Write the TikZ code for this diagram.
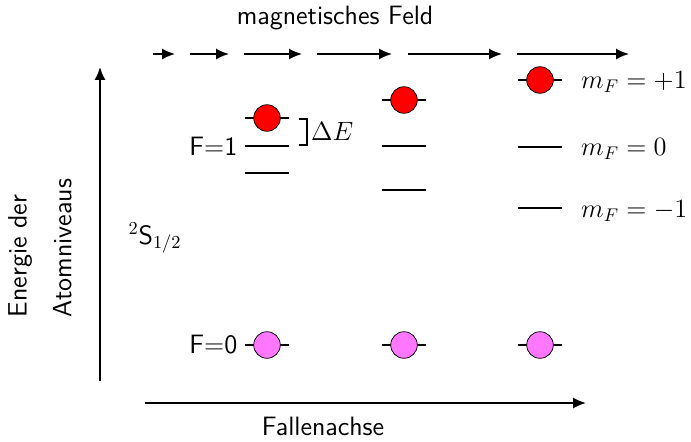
\documentclass[tikz,border=0pt]{standalone}
\usetikzlibrary{arrows.meta}
\definecolor{atomviolet}{RGB}{255,119,255}
\begin{document}
\begin{tikzpicture}[x=0.546pt,y=-0.546pt,
  level/.style={line width=1.1pt},
  field/.style={line width=1.1pt,-{Latex[length=7pt,width=6pt]}},
  axis/.style={line width=1.1pt,-{Latex[length=7pt,width=6pt]}},
  atomA/.style={circle,draw,line width=0.4pt,fill=red,minimum size=14.5pt,inner sep=0pt},
  atomB/.style={circle,draw,line width=0.4pt,fill=atomviolet,minimum size=14.5pt,inner sep=0pt},
  lbl/.style={font=\fontsize{14.5}{17.4}\selectfont\sffamily,inner sep=1pt},
  mlbl/.style={anchor=west,inner sep=1pt,font=\fontsize{14.3}{17}\selectfont}]
\useasboundingbox (0,0) rectangle (691,441);
% field label and arrows
\node[lbl] (feld) at (335,18) {magnetisches Feld};
\foreach \a/\b [count=\i] in {153/175,190/229,244/302,317/392,408/502,517/629}{
  \coordinate (fa\i) at (\a,54);
  \coordinate (fb\i) at (\b,54);
  \draw[field] (fa\i) -- (fb\i);
}
% axes
\coordinate (v0) at (100,381);
\coordinate (v1) at (100,67);
\draw[axis] (v0) -- (v1);
\coordinate (h0) at (145,403);
\coordinate (h1) at (586,403);
\draw[axis] (h0) -- (h1);
\node[lbl] (fall) at (323,426) {Fallenachse};
\node[lbl,rotate=90,align=left] (energie) at (40,248) {Energie der\\[7pt]Atomniveaus};
\node[lbl] (term) at (155,238) {$^2$S$_{1/2}$};
% levels: column centers
\foreach \n/\x/\t/\m/\bb in {A/267/118/146/173,B/404/100/146/190,C/540/80/147/208}{
  \coordinate (\n tl) at (\x-22,\t); \coordinate (\n tr) at (\x+22,\t);
  \coordinate (\n ml) at (\x-22,\m); \coordinate (\n mr) at (\x+22,\m);
  \coordinate (\n bl) at (\x-22,\bb); \coordinate (\n br) at (\x+22,\bb);
  \coordinate (\n gl) at (\x-22,345); \coordinate (\n gr) at (\x+22,345);
  \draw[level] (\n tl) -- (\n tr);
  \draw[level] (\n ml) -- (\n mr);
  \draw[level] (\n bl) -- (\n br);
  \draw[level] (\n gl) -- (\n gr);
  \node[atomA] (\n up) at (\x,\t) {};
  \node[atomB] (\n g) at (\x,345) {};
}
\node[lbl,anchor=east] (F1) at ([xshift=-3pt]Aml) {F$=$1};
\node[lbl,anchor=east] (F0) at ([xshift=-3pt]Agl) {F$=$0};
% Delta E bracket
\coordinate (br1) at (299,119);
\coordinate (br2) at (307,119);
\coordinate (br3) at (307,145);
\coordinate (br4) at (299,145);
\draw[line width=0.9pt] (br1) -- (br2) -- (br3) -- (br4);
\node[mlbl] (dE) at (309,131) {$\Delta E$};
% m_F labels
\node[mlbl] (m1) at (579,82) {$m_F=+1$};
\node[mlbl] (m0) at (579,149) {$m_F=0$};
\node[mlbl] (mm1) at (579,211) {$m_F=-1$};
\end{tikzpicture}
\end{document}
